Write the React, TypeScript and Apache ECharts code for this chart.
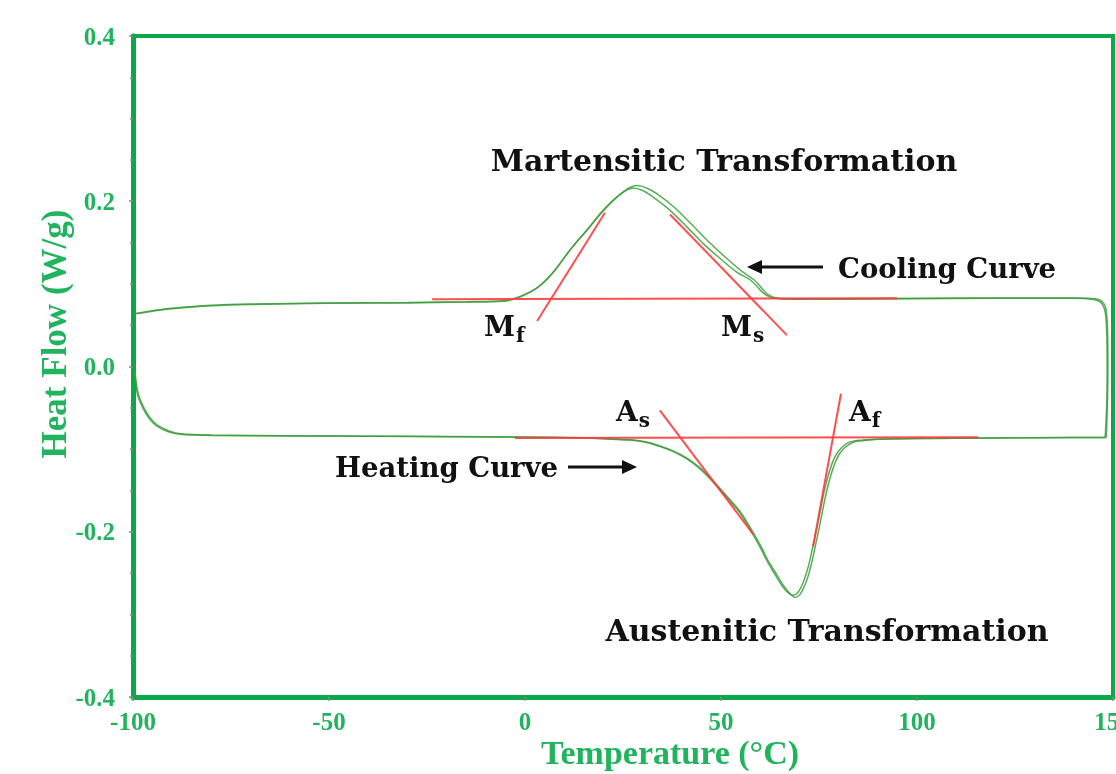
import React, { useEffect, useRef } from "react";
import * as echarts from "echarts";

// ---- data ----
const xTicks = [-100, -50, 0, 50, 100, 150];
const yTicks = [-0.4, -0.2, 0.0, 0.2, 0.4];

// cooling curve, run 1 (temperature °C, heat flow W/g)
const cooling1T = [148.3, 148.6, 148.7, 148.6, 148.2, 147.2, 145.5, 140, 120, 100, 80, 70, 64, 62.5, 60.5, 59, 57.4, 54.1, 49.7, 45.4, 41.3, 37, 32.7, 30, 27.6, 24.2, 19.9, 15.8, 11.5, 7.1, 3.1, -1.3, -5.6, -15, -30, -50, -70, -80, -90, -95, -99, -100];
const cooling1H = [-0.086, -0.04, 0.0, 0.045, 0.07, 0.079, 0.082, 0.083, 0.083, 0.0825, 0.082, 0.082, 0.0825, 0.084, 0.09, 0.098, 0.105, 0.114, 0.131, 0.149, 0.169, 0.189, 0.205, 0.213, 0.216, 0.208, 0.189, 0.165, 0.141, 0.113, 0.095, 0.084, 0.079, 0.078, 0.077, 0.0765, 0.075, 0.0735, 0.07, 0.067, 0.064, 0.063];

// cooling curve, run 2
const cooling2T = [148.0, 148.4, 148.5, 148.4, 148.0, 147.0, 145.0, 140, 120, 100, 80, 70, 65, 63.5, 61.5, 60, 58.4, 55.1, 50.7, 46.4, 42.3, 38, 33.7, 31, 28.6, 25.2, 20.9, 16.3, 11.8, 7.3, 3.3, -1.1, -5.4, -15, -30, -50, -70, -80, -90, -95, -99, -100];
const cooling2H = [-0.086, -0.045, -0.002, 0.04, 0.066, 0.077, 0.081, 0.0825, 0.0825, 0.082, 0.0815, 0.0815, 0.082, 0.0835, 0.089, 0.097, 0.105, 0.116, 0.134, 0.153, 0.173, 0.193, 0.209, 0.216, 0.219, 0.212, 0.193, 0.168, 0.143, 0.115, 0.096, 0.085, 0.0795, 0.0785, 0.0775, 0.077, 0.0755, 0.074, 0.0705, 0.0675, 0.0645, 0.0635];

// heating curve, run 1
const heating1T = [-99.6, -99.3, -98.8, -97.5, -96, -94, -91, -88, -80, -60, -40, -20, 0, 15, 22, 26.8, 31, 34.5, 37.8, 41, 43.9, 46.8, 49.7, 52.3, 54.8, 57.4, 59.9, 61.7, 63.3, 65.8, 67.2, 68.4, 69.7, 70.9, 71.8, 72.7, 73.6, 74.5, 75.3, 76, 76.9, 77.8, 78.7, 79.6, 80.8, 82.1, 84, 86.2, 90, 100, 120, 140, 148.3];
const heating1H = [-0.005, -0.02, -0.035, -0.05, -0.062, -0.072, -0.079, -0.082, -0.0835, -0.084, -0.0845, -0.085, -0.0855, -0.0865, -0.088, -0.089, -0.092, -0.097, -0.103, -0.111, -0.121, -0.134, -0.149, -0.163, -0.177, -0.197, -0.218, -0.235, -0.248, -0.267, -0.274, -0.277, -0.273, -0.262, -0.25, -0.234, -0.214, -0.194, -0.175, -0.158, -0.14, -0.125, -0.113, -0.105, -0.098, -0.093, -0.09, -0.089, -0.088, -0.087, -0.0865, -0.086, -0.086];

// heating curve, run 2
const heating2T = [-99.5, -99.2, -98.6, -97.3, -95.8, -93.8, -90.8, -87.8, -80, -60, -40, -20, 0, 15, 22, 27, 31.3, 34.8, 38.1, 41.3, 44.2, 47.1, 50, 52.6, 55.1, 57.7, 60.2, 62, 63.7, 66.2, 67.7, 68.9, 70.2, 71.4, 72.3, 73.2, 74.1, 75, 75.8, 76.5, 77.4, 78.3, 79.2, 80.1, 81.3, 82.6, 84.5, 86.7, 90, 100, 120, 140, 148.0];
const heating2H = [-0.004, -0.019, -0.034, -0.049, -0.061, -0.071, -0.078, -0.0815, -0.083, -0.0838, -0.0843, -0.0848, -0.0853, -0.0863, -0.0878, -0.0888, -0.0918, -0.0968, -0.1028, -0.1108, -0.1208, -0.1338, -0.1488, -0.1628, -0.1768, -0.1968, -0.2178, -0.2348, -0.2478, -0.2668, -0.2755, -0.2795, -0.2755, -0.2645, -0.2525, -0.2365, -0.2165, -0.1965, -0.1775, -0.1605, -0.1425, -0.1275, -0.1155, -0.1065, -0.0995, -0.0945, -0.0905, -0.0895, -0.088, -0.087, -0.0865, -0.086, -0.086];

// red construction lines: [T1, H1, T2, H2]
const coolingBaseline = [-23.7, 0.0815, 94.9, 0.0825];
const mfTangent = [3.1, 0.055, 20.4, 0.186];
const msTangent = [37.0, 0.184, 66.8, 0.038];
const heatingBaseline = [-2.6, -0.0865, 115.6, -0.0855];
const asTangent = [34.4, -0.053, 58.2, -0.203];
const afTangent = [80.6, -0.033, 73.5, -0.218];

const zip = (t: number[], h: number[]) => t.map((v, i) => [v, h[i]]);
const seg = (s: number[]) => [[s[0], s[1]], [s[2], s[3]]];

const GREEN_AXIS = "#0aa84a";
const GREEN_LABEL = "#22b35e";
const CURVE = "#3c9e3c";
const RED = "#ff3b3b";
const SERIF = "'Liberation Serif', 'Times New Roman', serif";
const ANNOT = "'DejaVu Serif', serif";

export default function App() {
  const ref = useRef<HTMLDivElement>(null);
  useEffect(() => {
    if (!ref.current) return;
    const chart = echarts.init(ref.current, undefined, { renderer: "svg" });

    const curve = (name: string, data: number[][]) => ({
      name,
      type: "line",
      data,
      showSymbol: false,
      smooth: 0.3,
      lineStyle: { color: CURVE, width: 1.5, opacity: 0.85 },
      z: 3,
    });
    const red = (name: string, s: number[]) => ({
      name,
      type: "line",
      data: seg(s),
      showSymbol: false,
      lineStyle: { color: RED, width: 2, opacity: 0.9 },
      z: 4,
    });

    const annotFont = { fontFamily: ANNOT, fontWeight: "bold", fill: "#111" };

    const subText = (left: number, top: number, main: string, sub: string) => ({
      type: "text",
      left,
      top,
      style: {
        text: `{m|${main}}{s|${sub}}`,
        rich: {
          m: { fontFamily: ANNOT, fontWeight: "bold", fontSize: 28, fill: "#111" },
          s: { fontFamily: ANNOT, fontWeight: "bold", fontSize: 20, fill: "#111", padding: [18, 0, 0, 1] },
        },
      },
    });

    chart.setOption({
      animation: false,
      grid: {
        left: 133,
        right: 3,
        top: 36,
        bottom: 77,
        outerBoundsMode: "none",
        containLabel: false,
        show: true,
        borderColor: GREEN_AXIS,
        borderWidth: 4,
      },
      xAxis: {
        type: "value",
        min: xTicks[0],
        max: xTicks[xTicks.length - 1],
        interval: 50,
        axisLine: { show: true, onZero: false, lineStyle: { color: GREEN_AXIS, width: 5 } },
        axisTick: { show: true, length: 4, lineStyle: { color: "#888", width: 1.5 } },
        splitLine: { show: false },
        axisLabel: {
          color: GREEN_LABEL,
          fontFamily: SERIF,
          fontWeight: "bold",
          fontSize: 25,
          margin: 12,
          hideOverlap: false,
        },
      },
      yAxis: {
        type: "value",
        min: yTicks[0],
        max: yTicks[yTicks.length - 1],
        interval: 0.2,
        axisLine: { show: true, onZero: false, lineStyle: { color: GREEN_AXIS, width: 5 } },
        axisTick: { show: true, length: 4, lineStyle: { color: "#888", width: 1.5 } },
        minorTick: { show: true, splitNumber: 4, length: 3, lineStyle: { color: "#888", width: 1.5 } },
        splitLine: { show: false },
        axisLabel: {
          color: GREEN_LABEL,
          fontFamily: SERIF,
          fontWeight: "bold",
          fontSize: 25,
          margin: 18,
          formatter: (v: number) => v.toFixed(1),
        },
      },
      series: [
        curve("Cooling run 1", zip(cooling1T, cooling1H)),
        curve("Cooling run 2", zip(cooling2T, cooling2H)),
        curve("Heating run 1", zip(heating1T, heating1H)),
        curve("Heating run 2", zip(heating2T, heating2H)),
        red("Cooling baseline", coolingBaseline),
        red("Mf tangent", mfTangent),
        red("Ms tangent", msTangent),
        red("Heating baseline", heatingBaseline),
        red("As tangent", asTangent),
        red("Af tangent", afTangent),
      ],
      graphic: [
        {
          type: "text",
          x: 670,
          y: 752,
          style: {
            text: "Temperature (°C)",
            fontFamily: SERIF,
            fontWeight: "bold",
            fontSize: 34,
            fill: GREEN_LABEL,
            textAlign: "center",
            textVerticalAlign: "middle",
          },
        },
        {
          type: "text",
          x: 54,
          y: 334,
          rotation: Math.PI / 2,
          style: {
            text: "Heat Flow (W/g)",
            fontFamily: SERIF,
            fontWeight: "bold",
            fontSize: 35,
            fill: GREEN_LABEL,
            textAlign: "center",
            textVerticalAlign: "middle",
          },
        },
        {
          type: "text",
          x: 724,
          y: 160,
          style: { text: "Martensitic Transformation", fontSize: 30, textAlign: "center", textVerticalAlign: "middle", ...annotFont },
        },
        {
          type: "text",
          x: 827,
          y: 630,
          style: { text: "Austenitic Transformation", fontSize: 30, textAlign: "center", textVerticalAlign: "middle", ...annotFont },
        },
        {
          type: "text",
          x: 838,
          y: 268,
          style: { text: "Cooling Curve", fontSize: 27.5, textAlign: "left", textVerticalAlign: "middle", ...annotFont },
        },
        {
          type: "text",
          x: 335,
          y: 467,
          style: { text: "Heating Curve", fontSize: 27.5, textAlign: "left", textVerticalAlign: "middle", ...annotFont },
        },
        // arrows
        { type: "line", shape: { x1: 823, y1: 267, x2: 760, y2: 267 }, style: { stroke: "#111", lineWidth: 3 } },
        { type: "polygon", shape: { points: [[747, 267], [762, 260], [762, 274]] }, style: { fill: "#111" } },
        { type: "line", shape: { x1: 568, y1: 467, x2: 625, y2: 467 }, style: { stroke: "#111", lineWidth: 3 } },
        { type: "polygon", shape: { points: [[637, 467], [622, 460], [622, 474]] }, style: { fill: "#111" } },
        subText(484, 312, "M", "f"),
        subText(721, 312, "M", "s"),
        subText(616, 397, "A", "s"),
        subText(849, 397, "A", "f"),
      ],
    });
    return () => chart.dispose();
  }, []);
  return <div ref={ref} style={{ position: "fixed", left: 0, top: 0, width: 1116, height: 774 }} />;
}
